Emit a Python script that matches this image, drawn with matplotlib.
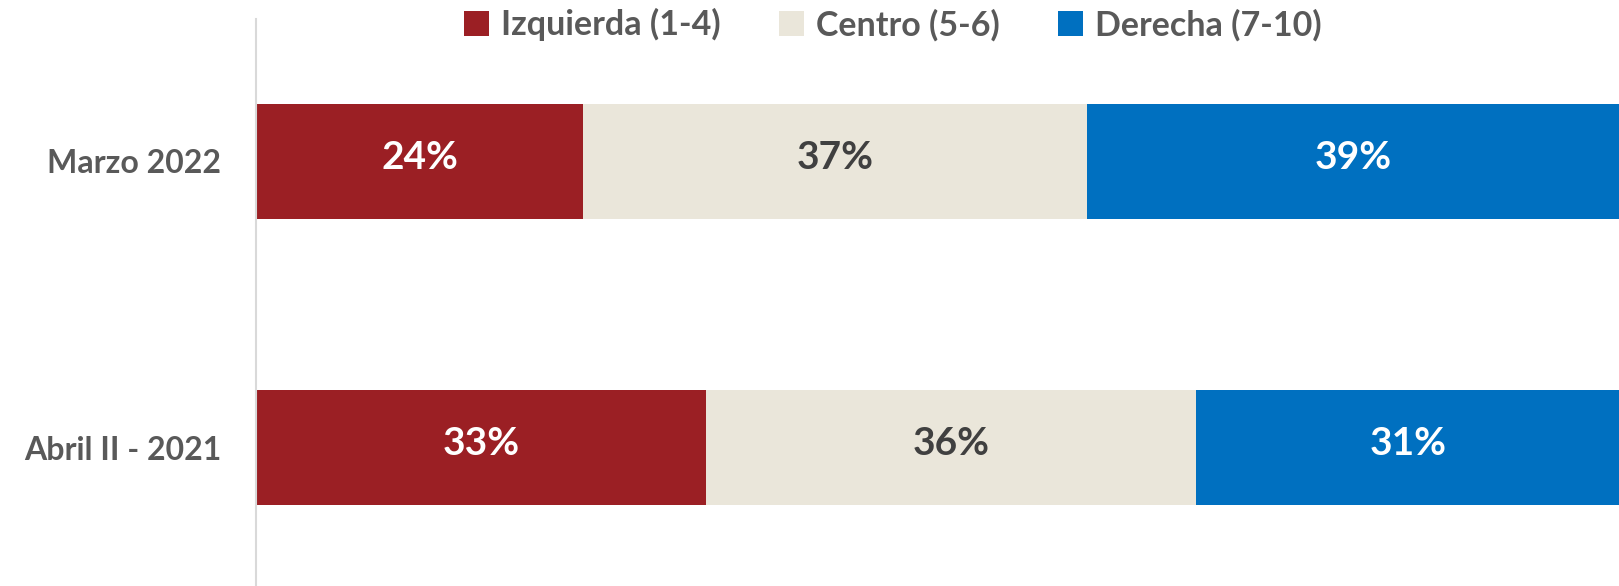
import matplotlib
matplotlib.use("Agg")
import matplotlib.pyplot as plt
from matplotlib.patches import Patch

categories = ["Abril II - 2021", "Marzo 2022"]
series_names = ["Izquierda (1-4)", "Centro (5-6)", "Derecha (7-10)"]
izquierda = [33, 24]
centro = [36, 37]
derecha = [31, 39]
colors = ["#9B1F24", "#EAE6DA", "#0070C0"]
label_colors = ["white", "#404040", "white"]

plt.rcParams['font.family'] = ['Lato', 'DejaVu Sans']

fig = plt.figure(figsize=(16.19, 5.86), dpi=100)
ax = fig.add_axes([256/1619, 0.0, 1 - 256/1619, 1 - 19/586])

ypos = list(range(len(categories)))
left = [0] * len(categories)
for vals, col, lc in zip([izquierda, centro, derecha], colors, label_colors):
    bars = ax.barh(ypos, vals, left=left, height=0.4, color=col, edgecolor='none')
    for b, v in zip(bars, vals):
        ax.text(b.get_x() + b.get_width() / 2, b.get_y() + b.get_height() / 2 + 0.015,
                f"{v}%", ha='center', va='center', color=lc,
                fontsize=28, fontweight='bold')
    left = [l + v for l, v in zip(left, vals)]

ax.set_xlim(0, 100)
ax.set_ylim(-0.484, 1.498)
ax.set_yticks(ypos)
ax.set_yticklabels(categories, fontsize=23, fontweight='bold', color='#595959')
ax.tick_params(axis='y', length=0, pad=25)
ax.set_xticks([])
for s in ['top', 'right', 'bottom']:
    ax.spines[s].set_visible(False)
ax.spines['left'].set_color('#D9D9D9')
ax.spines['left'].set_linewidth(1.5)

handles = [Patch(facecolor=c, edgecolor='none') for c in colors]
leg = fig.legend(handles, series_names, loc='center', bbox_to_anchor=(0.5515, 0.958),
                 ncol=3, frameon=False, fontsize=24.5, handlelength=0.75, handleheight=0.75,
                 handletextpad=0.35, columnspacing=1.7)
for t in leg.get_texts():
    t.set_color('#595959')
    t.set_fontweight('bold')

fig.savefig("out.png", dpi=100)
